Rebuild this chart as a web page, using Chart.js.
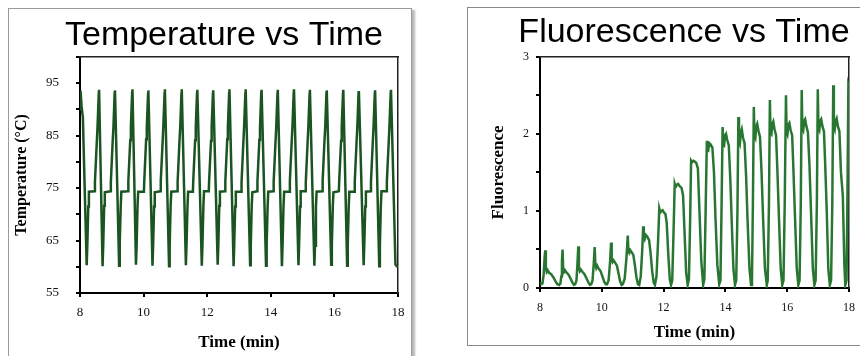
<!DOCTYPE html>
<html>
<head>
<meta charset="utf-8">
<script src="https://cdn.jsdelivr.net/npm/chart.js@4.4.1/dist/chart.umd.min.js"></script>
<style>
  html, body { margin:0; padding:0; background:#fff; width:860px; height:356px; overflow:hidden; }
  .frame { position:absolute; box-sizing:border-box; background:#fff; }
  #frameL { left:8px; top:8px; width:404px; height:349px; border:1px solid #9a9a9a; box-shadow:3px 2px 2px #b8b8b8; }
  #frameR { left:467px; top:7px; width:420px; height:339px; border:1px solid #8a8a8a; }
  canvas { position:absolute; }
  #cT { left:0px; top:0px; }
  #cF { left:478px; top:0px; }
</style>
</head>
<body>
<div class="frame" id="frameL"></div>
<div class="frame" id="frameR"></div>
<canvas id="cT" width="448" height="356"></canvas>
<canvas id="cF" width="412" height="356"></canvas>
<script>
// ---------- Temperature vs Time ----------
const tempTime = [
  8.00, 8.005, 8.03, 8.05, 8.09,
  8.21, 8.23, 8.26, 8.28, 8.46, 8.47, 8.53, 8.55, 8.59, 8.60,
  8.71, 8.73, 8.76, 8.78, 8.96, 8.97, 9.03, 9.05, 9.09, 9.10,
  9.23, 9.25, 9.28, 9.30, 9.51, 9.52, 9.58, 9.60, 9.64, 9.65,
  9.76, 9.78, 9.81, 9.83, 10.01, 10.02, 10.08, 10.10, 10.14, 10.15,
  10.28, 10.30, 10.33, 10.35, 10.53, 10.54, 10.60, 10.62, 10.66, 10.67,
  10.80, 10.82, 10.85, 10.87, 11.06, 11.07, 11.13, 11.15, 11.19, 11.20,
  11.33, 11.35, 11.38, 11.40, 11.55, 11.56, 11.62, 11.64, 11.68, 11.69,
  11.83, 11.85, 11.88, 11.90, 12.05, 12.06, 12.12, 12.14, 12.18, 12.19,
  12.33, 12.35, 12.38, 12.40, 12.56, 12.57, 12.63, 12.65, 12.69, 12.70,
  12.83, 12.85, 12.88, 12.90, 13.07, 13.08, 13.14, 13.16, 13.20, 13.21,
  13.35, 13.37, 13.40, 13.42, 13.57, 13.58, 13.64, 13.66, 13.70, 13.71,
  13.85, 13.87, 13.90, 13.92, 14.08, 14.09, 14.15, 14.17, 14.21, 14.22,
  14.35, 14.37, 14.40, 14.42, 14.59, 14.60, 14.66, 14.68, 14.72, 14.73,
  14.87, 14.89, 14.92, 14.94, 15.09, 15.10, 15.16, 15.18, 15.22, 15.23,
  15.37, 15.39, 15.42, 15.44, 15.62, 15.63, 15.69, 15.71, 15.75, 15.76,
  15.90, 15.92, 15.95, 15.97, 16.14, 16.15, 16.21, 16.23, 16.27, 16.28,
  16.40, 16.42, 16.45, 16.47, 16.63, 16.64, 16.70, 16.72, 16.76, 16.77,
  16.92, 16.94, 16.97, 16.99, 17.14, 17.15, 17.21, 17.23, 17.27, 17.28,
  17.41, 17.43, 17.46, 17.48, 17.64, 17.65, 17.71, 17.73, 17.77, 17.78,
  17.92, 17.96, 18.00
];
const tempValue = [
  90.0, 93.6, 93.5, 90.5, 88.5,
  60.3, 64.0, 71.5, 74.3, 74.4, 76.2, 84.0, 86.5, 93.0, 93.7,
  60.1, 64.0, 71.6, 74.2, 74.4, 76.1, 84.2, 86.4, 93.1, 93.6,
  60.2, 64.5, 71.4, 74.3, 74.4, 76.3, 84.1, 86.6, 93.2, 93.8,
  60.4, 63.8, 71.7, 74.3, 74.3, 76.2, 84.3, 86.5, 92.9, 93.6,
  60.2, 64.2, 71.5, 74.2, 74.4, 76.4, 84.0, 86.7, 93.1, 93.8,
  60.1, 64.1, 71.6, 74.3, 74.4, 76.1, 84.2, 86.4, 93.0, 93.8,
  60.3, 64.3, 71.4, 74.3, 74.3, 76.2, 84.1, 86.5, 93.1, 93.7,
  60.2, 64.0, 71.5, 74.4, 74.4, 76.3, 84.0, 86.6, 93.0, 93.6,
  60.4, 64.1, 71.6, 74.3, 74.4, 76.2, 84.3, 86.5, 93.1, 93.8,
  60.1, 64.2, 71.5, 74.3, 74.3, 76.1, 84.1, 86.6, 93.0, 93.8,
  60.3, 64.0, 71.7, 74.2, 74.4, 76.3, 84.2, 86.4, 93.2, 93.7,
  60.2, 64.3, 71.4, 74.3, 74.4, 76.2, 84.0, 86.5, 93.0, 93.7,
  60.1, 64.1, 71.6, 74.3, 74.3, 76.4, 84.2, 86.6, 93.1, 93.8,
  60.3, 64.2, 71.5, 74.4, 74.4, 76.1, 84.1, 86.5, 93.0, 93.7,
  60.2, 64.0, 71.5, 74.3, 74.4, 76.3, 84.3, 86.4, 93.1, 93.6,
  60.4, 64.3, 71.6, 74.2, 74.4, 76.2, 84.0, 86.6, 93.0, 93.7,
  60.2, 64.1, 71.4, 74.3, 74.3, 76.1, 84.2, 86.5, 93.2, 93.5,
  60.3, 64.2, 71.5, 74.3, 74.4, 76.2, 84.1, 86.5, 93.0, 93.6,
  60.1, 64.0, 71.6, 74.4, 74.4, 76.3, 84.0, 86.6, 93.1, 93.7,
  60.4, 60.1, 60.0
];
const tempTickLabels = [55, 65, 75, 85, 95];
const timeTickLabels = [8, 10, 12, 14, 16, 18];

// ---------- Fluorescence vs Time ----------
const fluoTime = [
  8.00, 8.04, 8.08, 8.12, 8.15,
  8.17, 8.19, 8.22, 8.25, 8.29, 8.36, 8.43, 8.50, 8.56, 8.62, 8.66, 8.69, 8.71,
  8.73, 8.75, 8.78, 8.81, 8.86, 8.93, 8.99, 9.05, 9.10, 9.14, 9.18, 9.21,
  9.24, 9.26, 9.29, 9.32, 9.37, 9.44, 9.51, 9.57, 9.62, 9.66, 9.70, 9.74,
  9.77, 9.79, 9.82, 9.85, 9.90, 9.96, 10.02, 10.08, 10.13, 10.17, 10.22, 10.27,
  10.30, 10.32, 10.35, 10.38, 10.43, 10.49, 10.54, 10.59, 10.64, 10.68, 10.74, 10.80,
  10.84, 10.86, 10.89, 10.92, 10.97, 11.02, 11.07, 11.12, 11.17, 11.21, 11.26, 11.31,
  11.34, 11.36, 11.39, 11.42, 11.47, 11.53, 11.58, 11.63, 11.68, 11.72, 11.77, 11.82,
  11.86, 11.89, 11.93, 11.97, 12.01, 12.06, 12.10, 12.15, 12.20, 12.24, 12.28, 12.32,
  12.36, 12.39, 12.43, 12.47, 12.52, 12.58, 12.63, 12.68, 12.73, 12.78, 12.82, 12.86,
  12.89, 12.92, 12.96, 13.01, 13.06, 13.11, 13.16, 13.22, 13.28, 13.32, 13.36,
  13.40, 13.42, 13.45, 13.48, 13.53, 13.58, 13.63, 13.68, 13.74, 13.80, 13.84, 13.87,
  13.91, 13.93, 13.96, 13.99, 14.02, 14.06, 14.11, 14.16, 14.21, 14.26, 14.31, 14.35, 14.39,
  14.42, 14.44, 14.47, 14.50, 14.53, 14.57, 14.62, 14.67, 14.72, 14.78, 14.83, 14.86, 14.89,
  14.92, 14.94, 14.97, 15.00, 15.03, 15.07, 15.12, 15.17, 15.22, 15.28, 15.34, 15.37, 15.41,
  15.44, 15.46, 15.49, 15.52, 15.55, 15.59, 15.64, 15.68, 15.73, 15.79, 15.84, 15.88, 15.92,
  15.96, 15.98, 16.01, 16.04, 16.07, 16.11, 16.16, 16.20, 16.25, 16.31, 16.36, 16.40, 16.44,
  16.47, 16.49, 16.52, 16.55, 16.58, 16.62, 16.67, 16.72, 16.77, 16.83, 16.88, 16.92, 16.96,
  16.99, 17.01, 17.04, 17.07, 17.10, 17.14, 17.19, 17.23, 17.28, 17.33, 17.38, 17.42, 17.46,
  17.49, 17.51, 17.54, 17.57, 17.60, 17.64, 17.69, 17.74, 17.80, 17.85, 17.88, 17.92, 17.95,
  17.98, 18.00
];
const fluoValue = [
  0.07, 0.05, 0.06, 0.18, 0.40,
  0.49, 0.27, 0.21, 0.23, 0.20, 0.18, 0.14, 0.09, 0.05, 0.04, 0.06, 0.15, 0.35,
  0.50, 0.26, 0.21, 0.23, 0.20, 0.17, 0.12, 0.07, 0.04, 0.05, 0.10, 0.30,
  0.54, 0.27, 0.22, 0.24, 0.21, 0.18, 0.12, 0.07, 0.04, 0.05, 0.10, 0.32,
  0.53, 0.31, 0.26, 0.29, 0.25, 0.22, 0.15, 0.08, 0.05, 0.05, 0.10, 0.35,
  0.59, 0.39, 0.34, 0.36, 0.33, 0.29, 0.19, 0.09, 0.04, 0.05, 0.12, 0.40,
  0.68, 0.50, 0.46, 0.49, 0.46, 0.43, 0.30, 0.14, 0.05, 0.04, 0.15, 0.50,
  0.80, 0.68, 0.64, 0.69, 0.67, 0.62, 0.45, 0.22, 0.07, 0.04, 0.15, 0.60,
  1.03, 0.98, 1.00, 1.01, 0.98, 0.96, 0.85, 0.45, 0.12, 0.04, 0.10, 0.70,
  1.35, 1.31, 1.34, 1.35, 1.32, 1.30, 1.20, 0.70, 0.20, 0.04, 0.12, 0.90,
  1.65, 1.63, 1.65, 1.64, 1.62, 1.55, 1.00, 0.35, 0.04, 0.12, 1.00,
  1.91, 1.82, 1.80, 1.88, 1.86, 1.82, 1.50, 0.90, 0.30, 0.05, 0.10, 0.90,
  2.09, 1.88, 1.86, 1.98, 2.00, 1.92, 1.85, 1.40, 0.80, 0.25, 0.04, 0.10, 1.00,
  2.22, 1.92, 1.88, 2.02, 2.06, 1.95, 1.88, 1.45, 0.85, 0.25, 0.04, 0.10, 1.10,
  2.35, 1.98, 1.95, 2.10, 2.13, 2.04, 1.96, 1.50, 0.90, 0.25, 0.04, 0.10, 1.10,
  2.44, 2.02, 2.00, 2.13, 2.16, 2.06, 1.98, 1.55, 0.95, 0.25, 0.04, 0.10, 1.10,
  2.50, 2.04, 2.00, 2.12, 2.14, 2.05, 1.98, 1.55, 0.95, 0.25, 0.04, 0.10, 1.10,
  2.57, 2.08, 2.05, 2.17, 2.19, 2.10, 2.02, 1.60, 1.00, 0.25, 0.04, 0.10, 1.10,
  2.58, 2.08, 2.05, 2.17, 2.19, 2.10, 2.03, 1.60, 1.00, 0.25, 0.04, 0.10, 1.10,
  2.63, 2.10, 2.06, 2.17, 2.20, 2.10, 2.03, 1.50, 1.20, 0.30, 0.04, 0.10, 1.20,
  2.63, 2.60
];
const fluoTickLabels = [0, 1, 2, 3];

// ---------- build ----------
const toPoints = (xs, ys) => xs.map((x, i) => ({ x: x, y: ys[i] }));
const serif = 'Liberation Serif';

function frameAxes(xmin, xmax, ymin, ymax, rightSpace) {
  return {
    xTop: { type: 'linear', axis: 'x', position: 'top', min: xmin, max: xmax,
      ticks: { display: false }, grid: { display: false },
      border: { display: true, color: '#222', width: 1.5 },
      afterFit: s => { s.height = 0; } },
    yRight: { type: 'linear', axis: 'y', position: 'right', min: ymin, max: ymax,
      ticks: { display: false }, grid: { display: false },
      border: { display: true, color: '#222', width: 1.5 },
      afterFit: s => { s.width = rightSpace; } }
  };
}

new Chart(document.getElementById('cT'), {
  type: 'line',
  data: { datasets: [{
    data: toPoints(tempTime, tempValue),
    borderColor: '#1a5421', borderWidth: 2.5, pointRadius: 0, tension: 0, fill: false,
    xAxisID: 'x', yAxisID: 'y'
  }] },
  options: {
    responsive: false, animation: false, devicePixelRatio: 1,
    layout: { padding: 0 },
    plugins: {
      legend: { display: false }, tooltip: { enabled: false },
      title: { display: true, text: 'Temperature vs Time', color: '#000',
        font: { family: 'Liberation Sans', size: 34, weight: 'normal' },
        padding: { top: 15, bottom: 1 } }
    },
    scales: Object.assign({
      x: { type: 'linear', position: 'bottom', min: 8, max: 18,
        ticks: { stepSize: 2, autoSkip: false, maxRotation: 0, color: '#111', padding: 8,
          font: { family: serif, size: 13 },
          callback: v => timeTickLabels.includes(v) ? String(v) : '' },
        grid: { drawOnChartArea: false, drawTicks: true, tickLength: 4, color: '#000', lineWidth: 2 },
        border: { color: '#000', width: 2 },
        title: { display: true, text: 'Time (min)', color: '#000',
          font: { family: serif, size: 17, weight: 'bold' }, padding: { top: 0, bottom: 3 } },
        afterFit: s => { s.height = 63; } },
      y: { type: 'linear', position: 'left', min: 55, max: 100,
        ticks: { stepSize: 5, autoSkip: false, color: '#111', padding: 17,
          font: { family: serif, size: 13 },
          callback: v => tempTickLabels.includes(v) ? String(v) : '' },
        grid: { drawOnChartArea: false, drawTicks: true, tickLength: 4, color: '#000', lineWidth: 2 },
        border: { color: '#000', width: 2 },
        title: { display: true, text: 'Temperature (°C)', color: '#000',
          font: { family: serif, size: 16, weight: 'bold' }, padding: { top: 12, bottom: 0 } },
        afterFit: s => { s.width = 80; } }
    }, frameAxes(8, 18, 55, 100, 50))
  }
});

new Chart(document.getElementById('cF'), {
  type: 'line',
  data: { datasets: [{
    data: toPoints(fluoTime, fluoValue),
    borderColor: '#287631', borderWidth: 2.5, pointRadius: 0, tension: 0, fill: false,
    xAxisID: 'x', yAxisID: 'y'
  }] },
  options: {
    responsive: false, animation: false, devicePixelRatio: 1,
    layout: { padding: 0 },
    plugins: {
      legend: { display: false }, tooltip: { enabled: false },
      title: { display: true, text: 'Fluorescence vs Time', color: '#000',
        font: { family: 'Liberation Sans', size: 34, weight: 'normal' },
        padding: { top: 12, bottom: 4 } }
    },
    scales: Object.assign({
      x: { type: 'linear', position: 'bottom', min: 8, max: 18,
        ticks: { stepSize: 2, autoSkip: false, maxRotation: 0, color: '#111', padding: 9,
          font: { family: serif, size: 12 },
          callback: v => timeTickLabels.includes(v) ? String(v) : '' },
        grid: { drawOnChartArea: false, drawTicks: true, tickLength: 4, color: '#000', lineWidth: 2 },
        border: { color: '#000', width: 2 },
        title: { display: true, text: 'Time (min)', color: '#000',
          font: { family: serif, size: 17, weight: 'bold' }, padding: { top: 0, bottom: 13 } },
        afterFit: s => { s.height = 68; } },
      y: { type: 'linear', position: 'left', min: 0, max: 3,
        ticks: { stepSize: 0.5, autoSkip: false, color: '#111', padding: 7,
          font: { family: serif, size: 12 },
          callback: v => fluoTickLabels.includes(v) ? String(v) : '' },
        grid: { drawOnChartArea: false, drawTicks: true, tickLength: 4, color: '#000', lineWidth: 2 },
        border: { color: '#000', width: 2 },
        title: { display: true, text: 'Fluorescence', color: '#000',
          font: { family: serif, size: 17, weight: 'bold' }, padding: { top: 10, bottom: 0 } },
        afterFit: s => { s.width = 62; } }
    }, frameAxes(8, 18, 0, 3, 41))
  }
});
</script>
</body>
</html>
